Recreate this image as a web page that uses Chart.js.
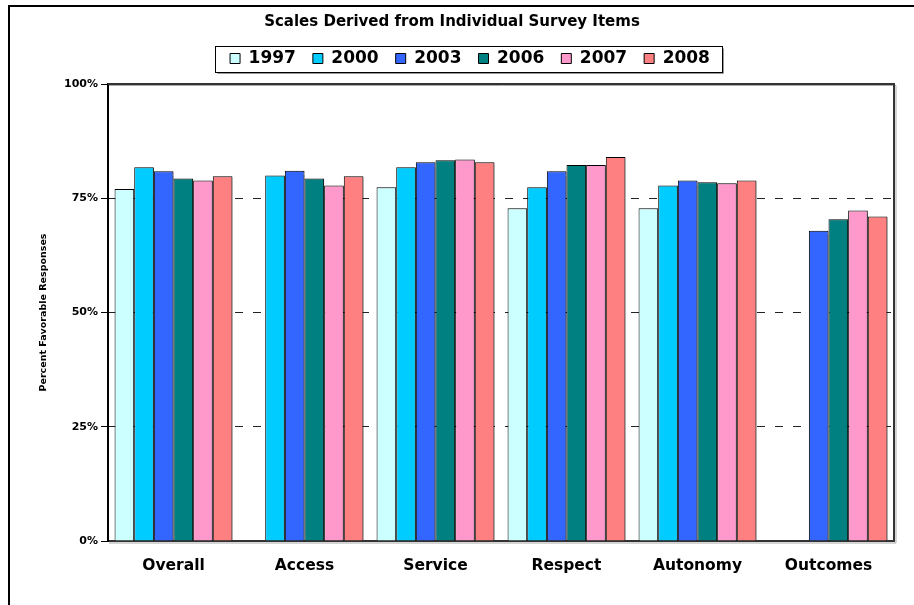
<!DOCTYPE html>
<html>
<head>
<meta charset="utf-8">
<script src="https://cdn.jsdelivr.net/npm/chart.js@4.4.1/dist/chart.umd.min.js"></script>
<style>
  html, body { margin: 0; padding: 0; background: #fff; overflow: hidden; }
  #frame { position: absolute; left: 8px; top: 5px; width: 1000px; height: 700px; border: 2px solid #000; }
  #chart { position: absolute; left: 0; top: 0; }
</style>
</head>
<body>
<div id="frame"></div>
<canvas id="chart" width="914" height="605"></canvas>
<script>
// --- Data ---
const categories = ['Overall', 'Access', 'Service', 'Respect', 'Autonomy', 'Outcomes'];
const years = ['1997', '2000', '2003', '2006', '2007', '2008'];
const values1997 = [77.0, null, 77.4, 72.8, 72.8, null];
const values2000 = [81.8, 80.0, 81.8, 77.4, 77.8, null];
const values2003 = [80.9, 81.0, 82.9, 80.9, 78.9, 67.9];
const values2006 = [79.3, 79.3, 83.3, 82.3, 78.5, 70.4];
const values2007 = [78.9, 77.8, 83.5, 82.3, 78.3, 72.3];
const values2008 = [79.8, 79.8, 82.9, 84.0, 78.9, 71.0];
const yTicks = [0, 25, 50, 75, 100];

const seriesValues = [values1997, values2000, values2003, values2006, values2007, values2008];
const colors = ['#ccffff', '#00ccff', '#3366ff', '#008080', '#ff99cc', '#ff8080'];
const FONT = 'DejaVu Sans';

// soft grey shadow behind the bars, like the Excel original
const barShadow = {
    id: 'barShadow',
    beforeDatasetsDraw(chart) {
        const ctx = chart.ctx;
        ctx.save();
        ctx.shadowColor = 'rgba(0,0,0,0.35)';
        ctx.shadowOffsetX = 2;
        ctx.shadowOffsetY = 1;
        ctx.shadowBlur = 1;
    },
    afterDatasetsDraw(chart) {
        chart.ctx.restore();
    }
};

// top + right edges of the plot box
const plotFrame = {
    id: 'plotFrame',
    afterDatasetsDraw(chart) {
        const { ctx, chartArea: a } = chart;
        ctx.save();
        ctx.strokeStyle = '#aaa';
        ctx.lineWidth = 1;
        ctx.beginPath();
        ctx.moveTo(a.left + 1, a.top + 1.5);
        ctx.lineTo(a.right + 2, a.top + 1.5);
        ctx.lineTo(a.right + 2, a.bottom + 2);
        ctx.lineTo(a.left + 1, a.bottom + 2);
        ctx.stroke();
        ctx.strokeStyle = '#333';
        ctx.lineWidth = 2;
        ctx.beginPath();
        ctx.moveTo(a.left, a.top);
        ctx.lineTo(a.right, a.top);
        ctx.lineTo(a.right, a.bottom);
        ctx.stroke();
        ctx.restore();
    }
};

// legend: extra room underneath, nudge right, box round it
const legendFrame = {
    id: 'legendFrame',
    beforeLayout(chart) {
        const lg = chart.legend;
        if (lg && !lg._extraRoom) {
            const fit = lg.fit.bind(lg);
            lg.fit = function () { fit(); this.height += 7; };
            lg._extraRoom = true;
        }
    },
    afterLayout(chart) {
        chart.legend.left += 18;
        chart.legend.right += 18;
    },
    afterDraw(chart) {
        const boxes = chart.legend.legendHitBoxes;
        if (!boxes || !boxes.length) return;
        const first = boxes[0];
        const last = boxes[boxes.length - 1];
        const cy = first.top + first.height / 2;
        const x0 = Math.round(first.left - 15) + 0.5;
        const x1 = Math.round(last.left + last.width + 12) + 0.5;
        const y0 = Math.round(cy - 13) + 0.5;
        const y1 = Math.round(cy + 13) + 0.5;
        const ctx = chart.ctx;
        ctx.save();
        ctx.strokeStyle = '#999';
        ctx.lineWidth = 1;
        ctx.beginPath();
        ctx.moveTo(x1 + 1, y0 + 2);
        ctx.lineTo(x1 + 1, y1 + 1);
        ctx.lineTo(x0 + 2, y1 + 1);
        ctx.stroke();
        ctx.strokeStyle = '#000';
        ctx.strokeRect(x0, y0, x1 - x0, y1 - y0);
        ctx.restore();
    }
};

const datasets = years.map((yr, i) => ({
    label: yr,
    data: seriesValues[i],
    backgroundColor: colors[i],
    borderColor: '#000',
    borderWidth: 1,
    categoryPercentage: 0.9,
    barPercentage: 1.0
}));

new Chart(document.getElementById('chart'), {
    type: 'bar',
    data: { labels: categories, datasets: datasets },
    plugins: [barShadow, plotFrame, legendFrame],
    options: {
        responsive: false,
        animation: false,
        devicePixelRatio: 1,
        layout: { padding: { top: 0, left: 10, right: 20, bottom: 0 } },
        plugins: {
            title: {
                display: true,
                text: 'Scales Derived from Individual Survey Items',
                color: '#000',
                font: { family: FONT, size: 15, weight: 'bold' },
                padding: { top: 13, bottom: 2 }
            },
            legend: {
                display: true,
                position: 'top',
                labels: {
                    color: '#000',
                    font: { family: FONT, size: 17, weight: 'bold' },
                    boxWidth: 10,
                    boxHeight: 10,
                    padding: 17
                }
            },
            tooltip: { enabled: false }
        },
        scales: {
            x: {
                grid: { display: false },
                border: { display: true, color: '#333', width: 2 },
                ticks: {
                    color: '#000',
                    padding: 8,
                    font: { family: FONT, size: 15.5, weight: 'bold' }
                },
                afterFit: s => { s.height = 64; }
            },
            y: {
                min: 0,
                max: 100,
                afterBuildTicks: s => { s.ticks = yTicks.map(v => ({ value: v })); },
                grid: {
                    color: ctx => (ctx.tick && (ctx.tick.value === 0 || ctx.tick.value === 100)) ? 'rgba(0,0,0,0)' : '#222',
                    tickColor: '#000',
                    tickLength: 7,
                    tickBorderDash: [],
                    lineWidth: 1
                },
                border: { display: true, color: '#000', width: 2, dash: [8, 10] },
                ticks: {
                    color: '#000',
                    padding: 3,
                    font: { family: FONT, size: 11, weight: 'bold' },
                    callback: v => v + '%'
                },
                title: {
                    display: true,
                    text: 'Percent Favorable Responses',
                    color: '#000',
                    font: { family: FONT, size: 9.5, weight: 'bold' },
                    padding: { top: 28, bottom: 0 }
                },
                afterFit: s => { s.width = 98; }
            }
        }
    }
});
</script>
</body>
</html>
